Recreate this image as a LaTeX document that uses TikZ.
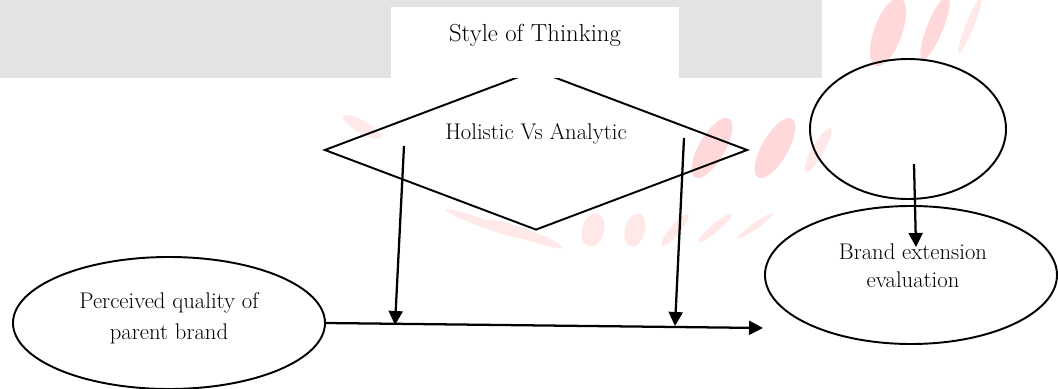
\documentclass[tikz,border=0pt]{standalone}
\usetikzlibrary{shapes.geometric,arrows.meta}
\begin{document}
\begin{tikzpicture}[x=0.75pt,y=-0.75pt,
  shapeline/.style={draw=black,line width=1.45pt},
  arr/.style={draw=black,line width=1.7pt,-{Triangle[length=10.5pt,width=10.5pt]}},
  lbl/.style={inner sep=0pt,align=center},
  wm/.style={fill=red!15,draw=none},
  wmpale/.style={fill=red!9,draw=none}]
\useasboundingbox (0,0) rectangle (1058,389);
% background band and faint watermark
\fill[black!11] (0,0) rectangle (822,78);
\fill[wm,rotate around={70:(888,32)}] (888,32) ellipse (36 and 14);
\fill[wm,rotate around={68:(935,28)}] (935,28) ellipse (34 and 8);
\fill[wmpale,rotate around={68:(970,25)}] (970,25) ellipse (30 and 4);
\fill[wm,rotate around={60:(712,148)}] (712,148) ellipse (34 and 13);
\fill[wm,rotate around={60:(775,148)}] (775,148) ellipse (34 and 13);
\fill[wmpale,rotate around={60:(818,150)}] (818,150) ellipse (25 and 6);
\fill[wmpale,rotate around={-30:(362,127)}] (362,127) ellipse (22 and 6);
\fill[wmpale,rotate around={-20:(485,224)}] (485,224) ellipse (42 and 4);
\fill[wmpale,rotate around={-20:(525,234)}] (525,234) ellipse (40 and 5);
\fill[wmpale,rotate around={75:(593,230)}] (593,230) ellipse (17 and 11);
\fill[wmpale,rotate around={75:(635,230)}] (635,230) ellipse (17 and 10);
\fill[wmpale,rotate around={50:(675,230)}] (675,230) ellipse (20 and 5);
\fill[wmpale,rotate around={40:(715,228)}] (715,228) ellipse (22 and 4);
\fill[wmpale,rotate around={35:(755,226)}] (755,226) ellipse (22 and 3);
% shapes
\node[diamond,shapeline,minimum width=317.25pt,minimum height=120pt,inner sep=0pt] (hv) at (536,150) {};
\node[fill=white,inner sep=0pt,minimum width=216pt,minimum height=53.25pt,
      text height=25.5pt,text depth=27.75pt,font=\fontsize{18.5}{22}\selectfont] (title) at (535,42.5) {Style of Thinking};
\node[lbl,font=\fontsize{17}{20}\selectfont] (hvt) at (536,134) {Holistic Vs Analytic};
\node[ellipse,shapeline,minimum width=234pt,minimum height=99pt,inner sep=0pt] (pq) at (169,323) {};
\node[lbl,font=\fontsize{17}{23}\selectfont] (pqt) at (169,318) {Perceived quality of\\parent brand};
\node[ellipse,shapeline,minimum width=147pt,minimum height=105pt,inner sep=0pt] (tr) at (908,129) {};
\node[ellipse,shapeline,minimum width=219pt,minimum height=103.5pt,inner sep=0pt] (be) at (911,275) {};
\node[lbl,font=\fontsize{17}{21}\selectfont] (bet) at (913,266) {Brand extension\\evaluation};
% connectors
\coordinate (hend) at (763,328);
\coordinate (v1s) at (404,146);
\coordinate (v1e) at (395,325);
\coordinate (v2s) at (684,138);
\coordinate (v2e) at (675,326);
\coordinate (v3s) at (914,164);
\coordinate (v3e) at (916,247);
\draw[arr] (pq.east) -- (hend);
\draw[arr] (v1s) -- (v1e);
\draw[arr] (v2s) -- (v2e);
\draw[arr] (v3s) -- (v3e);
\end{tikzpicture}
\end{document}
